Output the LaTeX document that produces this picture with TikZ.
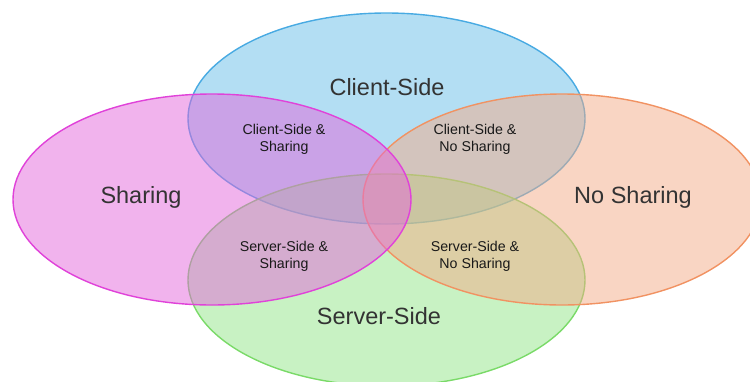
\documentclass[tikz,border=0pt]{standalone}
\usepackage{fontspec}
\setmainfont{Liberation Sans}
\definecolor{cliFill}{RGB}{103,189,231}
\definecolor{cliLine}{RGB}{72,170,226}
\definecolor{srvFill}{RGB}{145,229,135}
\definecolor{srvLine}{RGB}{122,218,104}
\definecolor{nosFill}{RGB}{243,171,135}
\definecolor{nosLine}{RGB}{241,146,98}
\definecolor{shaFill}{RGB}{227,103,219}
\definecolor{shaLine}{RGB}{224,66,217}
\definecolor{bigText}{RGB}{51,51,51}
\definecolor{smallText}{RGB}{25,25,25}
\begin{document}
\begin{tikzpicture}[x=1pt,y=-1pt,
  setshape/.style={line width=1.4pt, fill opacity=0.5, draw opacity=1},
  biglabel/.style={font=\fontsize{23.5}{28}\selectfont, text=bigText, inner sep=0pt},
  smalllabel/.style={font=\fontsize{14.2}{17}\selectfont, text=smallText, align=center, inner sep=0pt}]
\useasboundingbox (0,0) rectangle (750,381);
\clip (0,0) rectangle (750,381);
% the four sets
\path[setshape, draw=cliLine, fill=cliFill] (386.5,118.5) ellipse [x radius=198.5, y radius=105.5];
\path[setshape, draw=srvLine, fill=srvFill] (386.5,280) ellipse [x radius=198.5, y radius=106];
\path[setshape, draw=nosLine, fill=nosFill] (562,199.5) ellipse [x radius=199, y radius=105.5];
\path[setshape, draw=shaLine, fill=shaFill] (212,199.5) ellipse [x radius=199, y radius=105.5];
% set names
\node[biglabel] (client) at (387,87) {Client-Side};
\node[biglabel] (sharing) at (141,197) {Sharing};
\node[biglabel] (nosharing) at (633,197) {No Sharing};
\node[biglabel] (server) at (379,316) {Server-Side};
% intersections
\node[smalllabel] (cs) at (284,139) {Client-Side \&\\Sharing};
\node[smalllabel] (cn) at (475,139) {Client-Side \&\\No Sharing};
\node[smalllabel] (ss) at (284,256) {Server-Side \&\\Sharing};
\node[smalllabel] (sn) at (475,256) {Server-Side \&\\No Sharing};
\end{tikzpicture}
\end{document}
